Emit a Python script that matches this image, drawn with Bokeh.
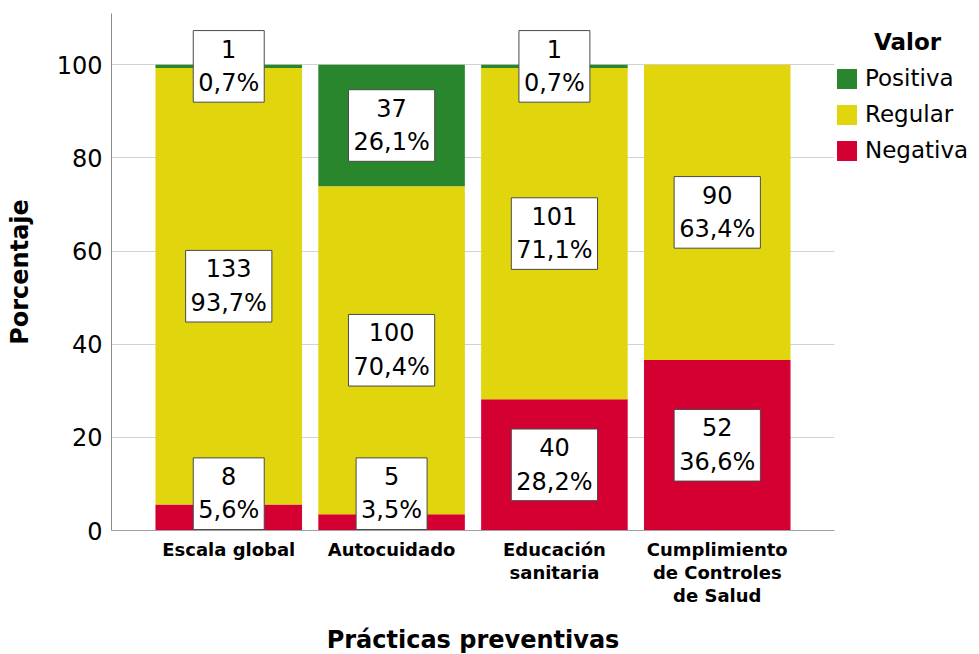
from bokeh.plotting import figure
from bokeh.models import (Range1d, FixedTicker, Legend, LegendItem,
                          ColumnDataSource)
from bokeh.core.properties import value
from bokeh.embed import file_html
from bokeh.resources import INLINE

# ---- data ----
categories = ["Escala global", "Autocuidado", "Educación\nsanitaria",
              "Cumplimiento\nde Controles\nde Salud"]
series = ["Negativa", "Regular", "Positiva"]
negativa_n = [8, 5, 40, 52]
negativa_pct = [5.6, 3.5, 28.2, 36.6]
regular_n = [133, 100, 101, 90]
regular_pct = [93.7, 70.4, 71.1, 63.4]
positiva_n = [1, 37, 1, 0]
positiva_pct = [0.7, 26.1, 0.7, 0.0]
y_ticks = [0, 20, 40, 60, 80, 100]
colors = {"Negativa": "#D50032", "Regular": "#E1D50E", "Positiva": "#2A862D"}
legend_order = ["Positiva", "Regular", "Negativa"]

FONT = "DejaVu Sans"
Y_MAX = 111
LABEL_MIN_Y = 7.9   # keep label boxes inside the plot area

xs = list(range(len(categories)))
src = ColumnDataSource(dict(x=xs, Negativa=negativa_pct, Regular=regular_pct,
                            Positiva=positiva_pct))

p = figure(frame_width=723, frame_height=517,
           x_range=Range1d(-0.72, 3.72), y_range=Range1d(0, Y_MAX),
           output_backend="svg", toolbar_location=None,
           min_border_left=111, min_border_top=13, min_border_right=142,
           min_border_bottom=124)
p.outline_line_color = None
p.background_fill_color = "white"

rends = p.vbar_stack(series, x="x", width=0.9, source=src,
                     color=[colors[s] for s in series], line_color=None)
rmap = dict(zip(series, rends))

# labels
lx, ly, lt = [], [], []
n_by = {"Negativa": negativa_n, "Regular": regular_n, "Positiva": positiva_n}
pct_by = {"Negativa": negativa_pct, "Regular": regular_pct, "Positiva": positiva_pct}
for i in xs:
    base = 0.0
    for s in series:
        v = pct_by[s][i]
        if n_by[s][i] > 0:
            lx.append(i)
            ly.append(max(base + v / 2, LABEL_MIN_Y))
            lt.append(f"{n_by[s][i]}\n{('%.1f' % v).replace('.', ',')}%")
        base += v
lsrc = ColumnDataSource(dict(x=lx, y=ly, t=lt))
p.text(x="x", y="y", text="t", source=lsrc, text_font=value(FONT),
       text_font_size="24px", text_align="center", text_baseline="middle",
       text_line_height=1.2, text_color="black",
       background_fill_color="white", border_line_color="#4a4a4a",
       border_line_width=1, padding=5)

# grid
p.xgrid.visible = False
p.ygrid.grid_line_color = "#d2d2d2"
p.ygrid.ticker = FixedTicker(ticks=y_ticks)

# y axis
ya = p.yaxis[0]
ya.ticker = FixedTicker(ticks=y_ticks)
ya.axis_line_color = "#8c8c8c"
ya.major_tick_line_color = None
ya.minor_tick_line_color = None
ya.major_tick_out = 0
ya.major_tick_in = 0
ya.major_label_standoff = 9
ya.major_label_text_font = FONT
ya.major_label_text_font_size = "24px"
ya.major_label_text_color = "black"
ya.axis_label = "Porcentaje"
ya.axis_label_text_font = FONT
ya.axis_label_text_font_size = "24px"
ya.axis_label_text_font_style = "bold"
ya.axis_label_text_color = "black"
ya.axis_label_standoff = 20

# x axis
xa = p.xaxis[0]
xa.ticker = FixedTicker(ticks=xs)
xa.major_label_overrides = {i: c for i, c in zip(xs, categories)}
xa.axis_line_color = "#a0a0a0"
xa.major_tick_line_color = None
xa.minor_tick_line_color = None
xa.major_tick_out = 0
xa.major_tick_in = 0
xa.major_label_standoff = 8
xa.major_label_text_font = FONT
xa.major_label_text_font_size = "18px"
xa.major_label_text_font_style = "bold"
xa.major_label_text_color = "black"
xa.major_label_text_line_height = 1.1
xa.axis_label = "Prácticas preventivas"
xa.axis_label_text_font = FONT
xa.axis_label_text_font_size = "24px"
xa.axis_label_text_font_style = "bold"
xa.axis_label_text_color = "black"
xa.axis_label_standoff = 17

# legend
legend = Legend(items=[LegendItem(label=s, renderers=[rmap[s]]) for s in legend_order],
                location=(0, 367), orientation="vertical",
                title="\u00a0\u00a0\u00a0\u00a0\u00a0Valor",
                title_text_font=FONT, title_text_font_size="23px",
                title_text_font_style="bold", title_text_color="black",
                title_standoff=10,
                glyph_width=25, glyph_height=25, label_height=25, spacing=10,
                label_standoff=6, padding=4, margin=0,
                border_line_color=None, background_fill_alpha=0,
                label_text_font=FONT, label_text_font_size="23px",
                label_text_color="black")
p.add_layout(legend, "right")

open("out.html", "w").write(file_html(p, INLINE))
